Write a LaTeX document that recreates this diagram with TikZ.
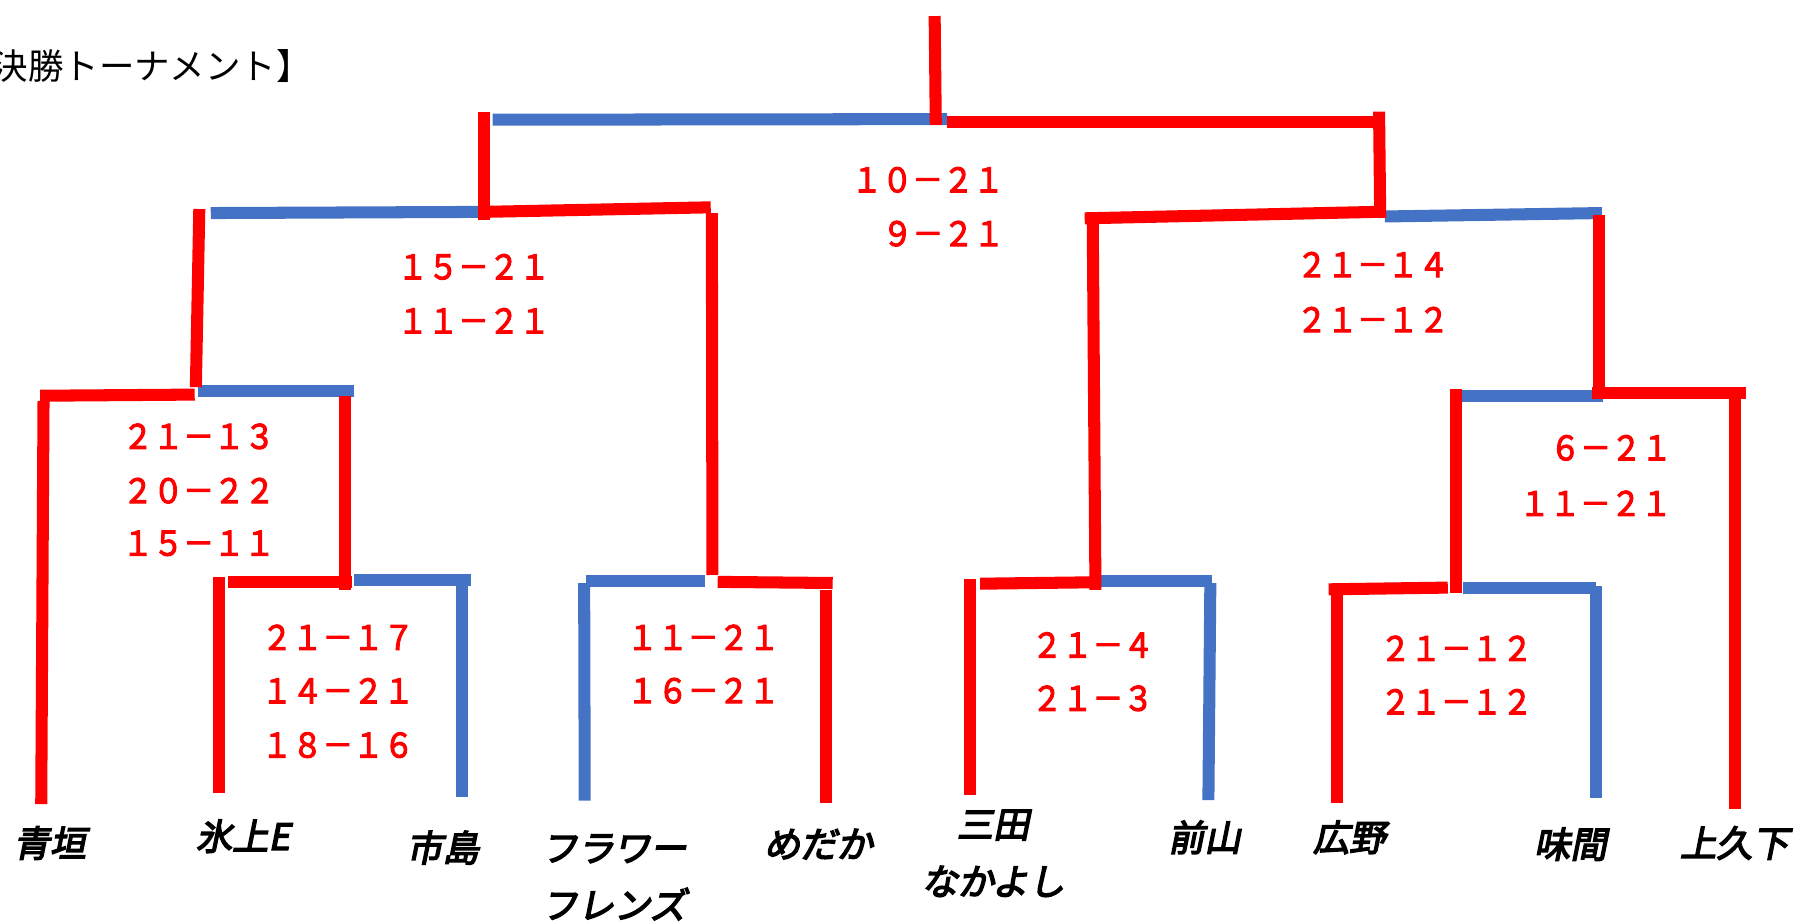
\documentclass[tikz,border=0pt]{standalone}
\usepackage{fontspec}
\usepackage{tikz}
\setmainfont{Noto Sans CJK JP}
\newfontfamily\jpfont{Noto Sans CJK JP}
\newfontfamily\jpbold[FakeBold=3,FakeStretch=0.9]{Noto Sans CJK JP}
\newfontfamily\jpname[FakeBold=4,FakeSlant=0.2]{Noto Sans CJK JP}
\definecolor{winred}{HTML}{FF0000}
\definecolor{loseblue}{HTML}{4472C4}
\tikzstyle{win}=[draw=winred,line width=0.105cm]
\tikzstyle{lose}=[draw=loseblue,line width=0.105cm]
\tikzstyle{score}=[text=winred,font=\jpbold\fontsize{8.4pt}{10pt}\selectfont,inner sep=0pt]
\tikzstyle{team}=[font=\jpname\fontsize{9pt}{14.2pt}\selectfont,inner sep=0pt]

\begin{document}
\begin{tikzpicture}[x=0.01cm,y=-0.01cm]
    \useasboundingbox (0,0) rectangle (1568,806);
    \node[font=\jpfont\fontsize{8.8pt}{10pt}\selectfont,inner sep=0pt,anchor=west] (title) at (-38,58) {【決勝トーナメント】};
    % losing side (blue) first, winners drawn over it
    \foreach \a/\b in {{(430,104.5)/(827,104)}, {(184,186)/(421,185)}, {(173,341.5)/(309,341.5)},
        {(309,506.7)/(411,506.7)}, {(403.5,509)/(403.5,695.6)}, {(512,507)/(615.5,507)},
        {(510,509)/(510.5,699)}, {(1209,189)/(1398.5,186)}, {(1276,346)/(1399.5,346)},
        {(961,507)/(1057.7,507)}, {(1056.7,509)/(1055,698.5)}, {(1277,513.5)/(1393.5,513.5)},
        {(1393.5,512)/(1393.5,697)}}
        \draw[lose] \a -- \b;
    \foreach \a/\b in {{(816,14)/(817,109)}, {(827,106.5)/(1203,106.5)}, {(422.5,97.5)/(422.5,192)},
        {(1204,97.5)/(1205,190)}, {(421,185)/(620.5,181)}, {(621.5,186)/(622,502)},
        {(174,182.5)/(171,338)}, {(35,345.5)/(170,344.5)}, {(38,350)/(36,702)},
        {(301,346)/(301,515)}, {(199,508)/(307,508)}, {(191.5,504)/(191.5,692.6)},
        {(626.6,508)/(727,509)}, {(721,515)/(721,700.8)}, {(947,190.6)/(1210,184.8)},
        {(954,190)/(956.4,515)}, {(1396,188)/(1396,343)}, {(1389.5,343)/(1524,343)},
        {(1515,348)/(1515,706)}, {(855.7,509.6)/(960,508.3)}, {(847,505.8)/(847,694)},
        {(1160,514.5)/(1264,513)}, {(1167,512)/(1167,700.8)}, {(1271,340)/(1271,518)}}
        \draw[win] \a -- \b;
    % game scores
    \foreach \pos/\name/\txt in {{(810,157)/fa/１０－２１}, {(823.5,204)/fb/９－２１},
        {(413.5,233)/sla/１５－２１}, {(413.5,280)/slb/１１－２１},
        {(1198.5,231)/sra/２１－１４}, {(1198.5,279)/srb/２１－１２},
        {(173.5,381)/qla/２１－１３}, {(173.5,428.4)/qlb/２０－２２}, {(173.5,474.4)/qlc/１５－１１},
        {(1406.5,391)/qra/６－２１}, {(1393,439.4)/qrb/１１－２１},
        {(295,556.4)/ra1/２１－１７}, {(295,603)/ra2/１４－２１}, {(295,650.5)/ra3/１８－１６},
        {(614,556.4)/rb1/１１－２１}, {(614,603)/rb2/１６－２１},
        {(954,563)/rc1/２１－４}, {(954,609.7)/rc2/２１－３},
        {(1271.5,566)/rd1/２１－１２}, {(1271.5,612.6)/rd2/２１－１２}}
        \node[score] (\name) at \pos {\txt};
    % teams
    \foreach \pos/\name/\txt in {{(43.5,736)/aogaki/青垣}, {(212,730)/hikami/氷上E},
        {(386.5,740)/ichijima/市島}, {(714.5,737)/medaka/めだか}, {(1051.5,731)/maeyama/前山},
        {(1178,731)/hirono/広野}, {(1371,737)/aima/味間}}
        \node[team] (\name) at \pos {\txt};
    \node[team,anchor=west,align=left] (flower) at (472,766) {フラワー\\フレンズ};
    \node[team,align=center] (mita) at (867,745) {三田\\なかよし};
    \node[team,anchor=west] (kamikuge) at (1466,736) {上久下};
\end{tikzpicture}
\end{document}
